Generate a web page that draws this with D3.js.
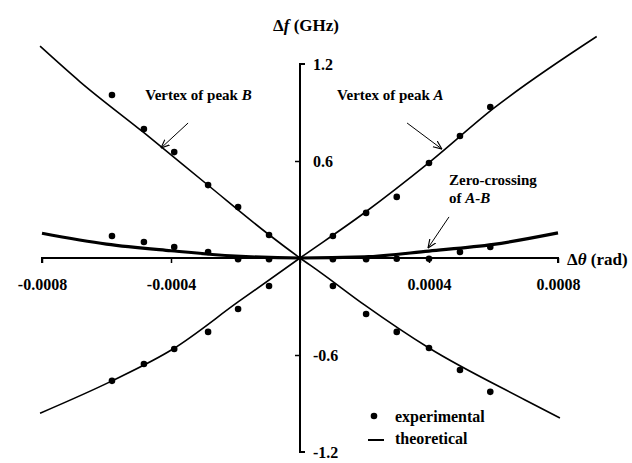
<!DOCTYPE html>
<html>
<head>
<meta charset="utf-8">
<script src="https://cdn.jsdelivr.net/npm/d3@7/dist/d3.min.js"></script>
<style>
  body { margin: 0; background: #fff; }
  text { font-family: "Liberation Serif", "Times New Roman", serif; font-weight: bold; fill: #000; }
</style>
</head>
<body>
<div id="chart"></div>
<script>
// axis ticks
var xTicks = [-0.0008, -0.0004, 0.0004, 0.0008];
var yTicks = [1.2, 0.6, -0.6, -1.2];

// experimental points (delta theta in rad, delta f in GHz)
var expRightX = [0.000102, 0.000205, 0.0003, 0.0004, 0.000496, 0.00059];
var expLeftX = [-0.000583, -0.000484, -0.00039, -0.000285, -0.000192, -0.000096];
var expUpperRight = [0.136, 0.279, 0.378, 0.588, 0.755, 0.934];
var expUpperLeft = [1.008, 0.798, 0.655, 0.451, 0.315, 0.142];
var expLowerLeft = [-0.76, -0.656, -0.563, -0.457, -0.315, -0.173];
var expLowerRight = [-0.173, -0.346, -0.457, -0.557, -0.693, -0.828];
var expZeroLeft = [0.136, 0.099, 0.068, 0.037, -0.008, -0.008];
var expZeroRight = [-0.008, -0.008, -0.005, -0.005, 0.037, 0.068];

// theoretical curves
var peakAX = [-0.000806, -0.000583, -0.000394, -0.000192, 0, 0.0002, 0.0004, 0.0006, 0.00092];
var peakAY = [-0.96, -0.76, -0.563, -0.272, 0, 0.28, 0.59, 0.925, 1.37];
var peakBX = [-0.000806, -0.000682, -0.000484, -0.000285, -0.0001, 0, 0.000062, 0.0002, 0.0004, 0.000698, 0.000806];
var peakBY = [1.31, 1.09, 0.775, 0.45, 0.15, 0, -0.087, -0.29, -0.557, -0.878, -0.99];
var zeroX = [-0.0008, -0.0006, -0.0004, -0.0002, 0, 0.0002, 0.0004, 0.0006, 0.0008];
var zeroY = [0.153, 0.086, 0.045, 0.012, 0, 0.007, 0.043, 0.084, 0.155];

var legendLabels = ["experimental", "theoretical"];

var width = 632, height = 463;

var svg = d3.select("#chart").append("svg")
  .attr("width", width)
  .attr("height", height);

svg.append("rect").attr("width", width).attr("height", height).attr("fill", "#fff");

var x = d3.scaleLinear().domain([-0.0008, 0.0008]).range([42, 558]);
var y = d3.scaleLinear().domain([-1.2, 1.2]).range([452, 64]);

function zip(xs, ys) {
  return xs.map(function(v, i) { return [v, ys[i]]; });
}

// x axis through zero
var xAxis = svg.append("g")
  .attr("transform", "translate(0," + y(0) + ")")
  .call(d3.axisBottom(x).tickValues(xTicks.concat([0])).tickSize(5).tickFormat(function(d) { return d === 0 ? "" : d; }));
xAxis.select(".domain").attr("stroke-width", 2).attr("d", "M" + x(-0.0008) + ",5V0H" + x(0.0008) + "V5");
xAxis.selectAll(".tick line").attr("stroke-width", 1.5);
xAxis.selectAll(".tick text")
  .attr("y", 21)
  .style("font-size", "16px")
  .style("font-family", "Liberation Serif")
  .style("font-weight", "bold");

// y axis through zero
var yAxis = svg.append("g")
  .attr("transform", "translate(" + x(0) + ",0)")
  .call(d3.axisLeft(y).tickValues([0.6, -0.6]).tickSize(5).tickFormat(""));
yAxis.select(".domain").attr("stroke-width", 2).attr("d", "M5," + y(1.2) + "H0V" + y(-1.2) + "H5");
yAxis.selectAll(".tick line").attr("stroke-width", 1.5);

svg.append("g").selectAll("text")
  .data(yTicks)
  .enter().append("text")
  .attr("x", x(0) + 13)
  .attr("y", function(d) { return y(d); })
  .attr("dy", "0.35em")
  .style("font-size", "16px")
  .text(function(d) { return d; });

// axis titles
var yTitle = svg.append("text")
  .attr("x", x(0) + 6)
  .attr("y", 31)
  .attr("text-anchor", "middle")
  .style("font-size", "17px");
yTitle.append("tspan").text("Δ");
yTitle.append("tspan").style("font-style", "italic").text("f");
yTitle.append("tspan").text(" (GHz)");

var xTitle = svg.append("text")
  .attr("x", x(0.0008) + 9)
  .attr("y", y(0) + 7)
  .style("font-size", "17px");
xTitle.append("tspan").text("Δ");
xTitle.append("tspan").style("font-style", "italic").text("θ");
xTitle.append("tspan").text(" (rad)");

// theoretical lines
var line = d3.line()
  .x(function(d) { return x(d[0]); })
  .y(function(d) { return y(d[1]); })
  .curve(d3.curveMonotoneX);

svg.append("path").datum(zip(peakAX, peakAY))
  .attr("d", line).attr("fill", "none").attr("stroke", "#000").attr("stroke-width", 1.6);
svg.append("path").datum(zip(peakBX, peakBY))
  .attr("d", line).attr("fill", "none").attr("stroke", "#000").attr("stroke-width", 1.6);
svg.append("path").datum(zip(zeroX, zeroY))
  .attr("d", line).attr("fill", "none").attr("stroke", "#000").attr("stroke-width", 3.2);

// experimental points
var points = []
  .concat(zip(expRightX, expUpperRight))
  .concat(zip(expLeftX, expUpperLeft))
  .concat(zip(expLeftX, expLowerLeft))
  .concat(zip(expRightX, expLowerRight))
  .concat(zip(expLeftX, expZeroLeft))
  .concat(zip(expRightX, expZeroRight));

svg.append("g").selectAll("circle")
  .data(points)
  .enter().append("circle")
  .attr("cx", function(d) { return x(d[0]); })
  .attr("cy", function(d) { return y(d[1]); })
  .attr("r", 3.3)
  .attr("fill", "#000");

// annotations
svg.append("defs").append("marker")
  .attr("id", "arrow")
  .attr("viewBox", "0 0 10 10")
  .attr("refX", 9.5).attr("refY", 5)
  .attr("markerWidth", 9).attr("markerHeight", 9)
  .attr("markerUnits", "userSpaceOnUse")
  .attr("orient", "auto")
  .append("path").attr("d", "M0,1L9.5,5L0,9")
  .attr("fill", "none").attr("stroke", "#000").attr("stroke-width", 1.3);

var arrows = [
  [[-0.000347, 0.835], [-0.000431, 0.68]],
  [[0.000332, 0.835], [0.00044, 0.674]],
  [[0.000462, 0.254], [0.000397, 0.062]]
];
svg.append("g").selectAll("line")
  .data(arrows)
  .enter().append("line")
  .attr("x1", function(d) { return x(d[0][0]); })
  .attr("y1", function(d) { return y(d[0][1]); })
  .attr("x2", function(d) { return x(d[1][0]); })
  .attr("y2", function(d) { return y(d[1][1]); })
  .attr("stroke", "#000").attr("stroke-width", 1)
  .attr("marker-end", "url(#arrow)");

function label(px, py, plain, ital) {
  var t = svg.append("text").attr("x", x(px)).attr("y", y(py)).style("font-size", "15px");
  t.append("tspan").text(plain);
  if (ital) t.append("tspan").style("font-style", "italic").text(ital);
  return t;
}
label(-0.00048, 0.977, "Vertex of peak ", "B");
label(0.000115, 0.977, "Vertex of peak ", "A");
label(0.000462, 0.451, "Zero-crossing");
label(0.000462, 0.34, "of ", "A-B");

// legend
var legend = svg.append("g").attr("transform", "translate(374,418)");
legend.append("circle").attr("cx", 0).attr("cy", -2).attr("r", 3.3).attr("fill", "#000");
legend.append("line").attr("x1", -6).attr("x2", 10).attr("y1", 22).attr("y2", 22)
  .attr("stroke", "#000").attr("stroke-width", 2);
legend.selectAll("text.lg")
  .data(legendLabels)
  .enter().append("text")
  .attr("class", "lg")
  .attr("x", 21)
  .attr("y", function(d, i) { return i * 22 + 4; })
  .style("font-size", "16px")
  .text(function(d) { return d; });
</script>
</body>
</html>
